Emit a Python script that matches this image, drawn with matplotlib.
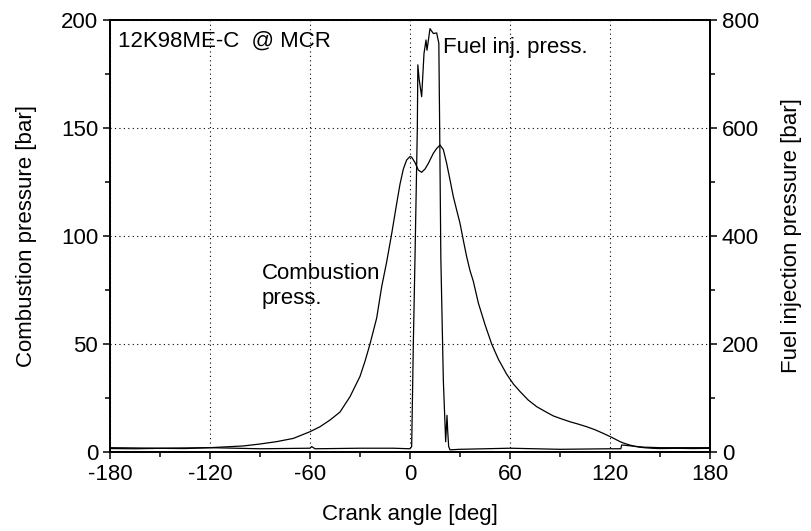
import matplotlib
matplotlib.use('Agg')
import matplotlib.pyplot as plt
from matplotlib.ticker import MultipleLocator

plt.rcParams['font.family'] = ['Liberation Sans', 'DejaVu Sans']
plt.rcParams['axes.unicode_minus'] = False

# Combustion pressure [bar] vs crank angle [deg]
comb_angle = [-180, -165, -150, -135, -120, -110, -100, -90, -80, -70, -60, -54, -48, -42,
              -36, -30, -27, -24, -20, -17, -14, -11, -8, -6, -4, -2, 0, 1, 3, 5, 7, 9,
              11, 14, 16, 18, 20, 22, 24, 26, 28, 30, 32, 34, 36, 38, 41, 45, 49, 53,
              58, 62, 66, 71, 76, 81, 86, 91, 96, 101, 106, 111, 116, 121, 126, 129,
              132, 135, 138, 142, 146, 150, 160, 170, 180]
comb_press = [1.6, 1.5, 1.7, 1.6, 2.0, 2.4, 2.8, 3.7, 4.8, 6.3, 9.4, 11.7, 14.8, 18.5,
              25.6, 35, 42, 50, 62, 76.5, 88, 101, 115, 124, 131, 135.2, 136.8, 136.5,
              134, 130.5, 129.5, 131, 133.6, 138.3, 140.5, 142.1, 140, 133.6, 126, 118.2,
              112, 105.9, 98, 90.4, 84, 79, 69, 59, 50, 43, 36, 31.5, 28, 24, 21, 18.8,
              16.7, 15.3, 14, 12.9, 11.7, 10.3, 8.6, 6.8, 4.8, 3.9, 3.2, 2.6, 2.2, 1.9,
              1.7, 1.6, 1.7, 1.6, 1.7]

# Fuel injection pressure [bar] vs crank angle [deg]
fuel_angle = [-180, -150, -120, -90, -60, -59, -57, -30, -10, 0, 1, 2, 3, 4.4, 4.7, 5.5,
              7, 8.4, 9.6, 10.2, 12, 14, 16, 17.3, 17.8, 18.5, 20, 21.4, 22.2, 22.6, 23.2,
              24, 30, 60, 90, 120, 126.5, 127, 140, 150, 180]
fuel_press = [8, 7, 8, 6, 7, 10, 6, 7, 7, 6, 10, 200, 360, 600, 717, 690, 658, 738, 763,
              744, 784, 775, 776, 757, 600, 360, 133, 19, 68, 40, 10, 4, 5, 7, 5, 6, 6,
              13, 9, 8, 8]

fig = plt.figure(figsize=(8.11, 5.31), dpi=100)
ax = fig.add_axes([110 / 811, 1 - 452 / 531, 600 / 811, 432 / 531])
ax2 = ax.twinx()

ax.plot(comb_angle, comb_press, color='black', lw=0.9)
ax2.plot(fuel_angle, fuel_press, color='black', lw=0.9)

ax.set_xlim(-180, 180)
ax.set_ylim(0, 200)
ax2.set_ylim(0, 800)

ax.xaxis.set_major_locator(MultipleLocator(60))
ax.xaxis.set_minor_locator(MultipleLocator(30))
ax.yaxis.set_major_locator(MultipleLocator(50))
ax.yaxis.set_minor_locator(MultipleLocator(25))
ax2.yaxis.set_major_locator(MultipleLocator(200))
ax2.yaxis.set_minor_locator(MultipleLocator(100))

ax.grid(True, which='major', color='black', linestyle=(0, (1, 3)), lw=0.8)

fs = 16
for a in (ax, ax2):
    a.tick_params(which='major', direction='out', length=5, width=1.1, labelsize=fs)
    a.tick_params(which='minor', direction='out', length=3.5, width=1.1)
    for s in a.spines.values():
        s.set_linewidth(1.3)
ax.tick_params(top=False, right=False)
ax.set_xticks([-180, -120, -60, 0, 60, 120, 180])

ax.set_xlabel('Crank angle [deg]', fontsize=fs, labelpad=14)
ax.set_ylabel('Combustion pressure [bar]', fontsize=fs, labelpad=17)
ax2.set_ylabel('Fuel injection pressure [bar]', fontsize=fs, labelpad=16)

ax.text(-175, 190, '12K98ME-C  @ MCR', fontsize=fs, va='center', ha='left')
ax.text(20, 187.5, 'Fuel inj. press.', fontsize=fs, va='center', ha='left')
ax.text(-89, 77, 'Combustion\npress.', fontsize=fs, va='center', ha='left', linespacing=1.25)

fig.savefig('out.png', dpi=100)
